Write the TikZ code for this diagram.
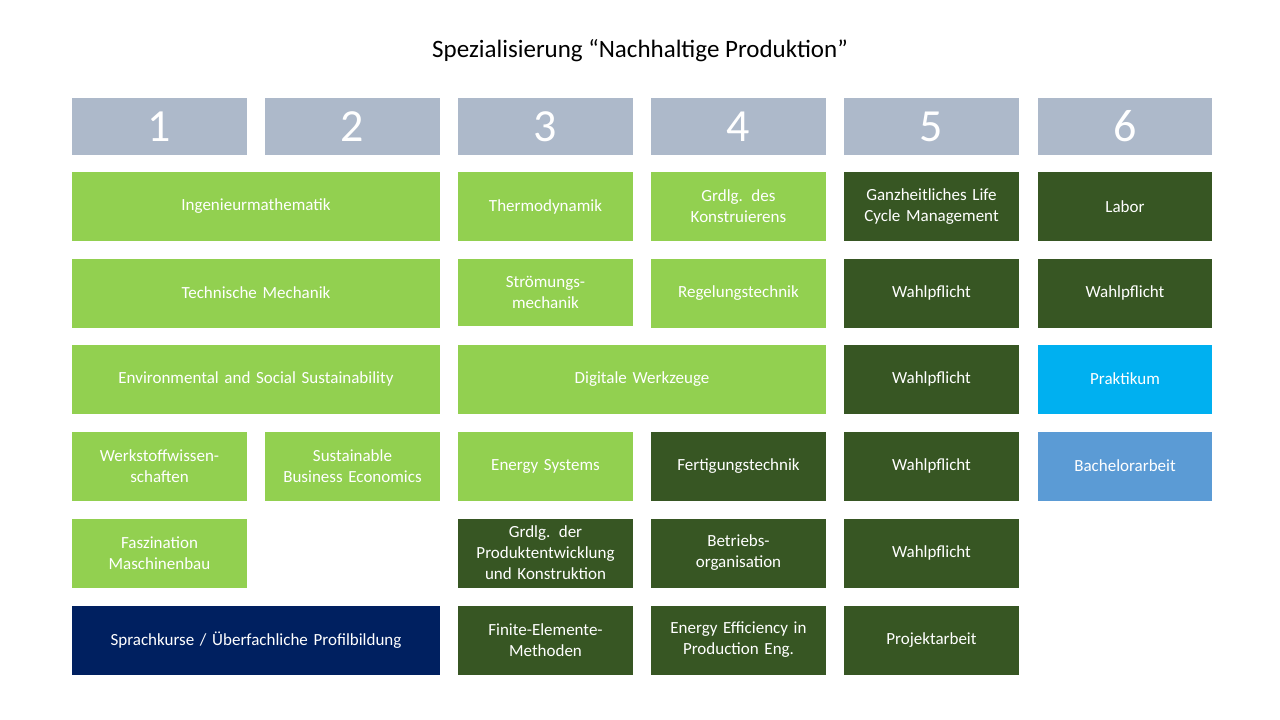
\documentclass[tikz,border=0pt]{standalone}
\usepackage{fontspec}
\setmainfont{Carlito}
\definecolor{hdr}{HTML}{ADB9CA}
\definecolor{lg}{HTML}{92D050}
\definecolor{dg}{HTML}{375623}
\definecolor{nv}{HTML}{002060}
\definecolor{cy}{HTML}{00B0F0}
\definecolor{bl}{HTML}{5B9BD5}
\begin{document}
\begin{tikzpicture}[x=1pt,y=-1pt,
  box/.style={inner sep=0pt,minimum height=69pt,text=white,align=center,font=\fontsize{17}{21}\selectfont},
  one/.style={box,minimum width=175pt,text width=170pt},
  two/.style={box,minimum width=368pt,text width=360pt},
  head/.style={fill=hdr,inner sep=0pt,minimum width=175pt,minimum height=57pt,text=white,font=\fontsize{46}{50}\selectfont}]
\useasboundingbox (0,0) rectangle (1280,720);
\node[font=\fontsize{25}{30}\selectfont] (title) at (640,51) {Spezialisierung “Nachhaltige Produktion”};
\node[head] (h1) at (159.5,126.5) {1};
\node[head] (h2) at (352.5,126.5) {2};
\node[head] (h3) at (545.5,126.5) {3};
\node[head] (h4) at (738.5,126.5) {4};
\node[head] (h5) at (931.5,126.5) {5};
\node[head,minimum width=174pt] (h6) at (1125,126.5) {6};
% row 1
\node[two,fill=lg] (a1) at (256,206.5) {Ingenieurmathematik};
\node[one,fill=lg] (a3) at (545.5,206.5) {Thermodynamik};
\node[one,fill=lg] (a4) at (738.5,206.5) {Grdlg. des\\Konstruierens};
\node[one,fill=dg] (a5) at (931.5,206.5) {Ganzheitliches Life\\Cycle Management};
\node[one,fill=dg,minimum width=174pt] (a6) at (1125,206.5) {Labor};
% row 2
\node[two,fill=lg] (b1) at (256,293) {Technische Mechanik};
\node[one,fill=lg,minimum height=67pt] (b3) at (545.5,292) {Strömungs-\\mechanik};
\node[one,fill=lg] (b4) at (738.5,293) {Regelungstechnik};
\node[one,fill=dg] (b5) at (931.5,293) {Wahlpflicht};
\node[one,fill=dg,minimum width=174pt] (b6) at (1125,293) {Wahlpflicht};
% row 3
\node[two,fill=lg] (c1) at (256,379) {Environmental and Social Sustainability};
\node[two,fill=lg] (c3) at (642,379) {Digitale Werkzeuge};
\node[one,fill=dg] (c5) at (931.5,379) {Wahlpflicht};
\node[one,fill=cy,minimum width=174pt] (c6) at (1125,379) {Praktikum};
% row 4
\node[one,fill=lg] (d1) at (159.5,466) {Werkstoffwissen-\\schaften};
\node[one,fill=lg] (d2) at (352.5,466) {Sustainable\\Business Economics};
\node[one,fill=lg] (d3) at (545.5,466) {Energy Systems};
\node[one,fill=dg] (d4) at (738.5,466) {Fertigungstechnik};
\node[one,fill=dg] (d5) at (931.5,466) {Wahlpflicht};
\node[one,fill=bl,minimum width=174pt] (d6) at (1125,466) {Bachelorarbeit};
% row 5
\node[one,fill=lg] (e1) at (159.5,553) {Faszination\\Maschinenbau};
\node[one,fill=dg] (e3) at (545.5,553) {Grdlg. der\\Produktentwicklung\\und Konstruktion};
\node[one,fill=dg] (e4) at (738.5,553) {Betriebs-\\organisation};
\node[one,fill=dg] (e5) at (931.5,553) {Wahlpflicht};
% row 6
\node[two,fill=nv] (f1) at (256,640) {Sprachkurse / Überfachliche Profilbildung};
\node[one,fill=dg] (f3) at (545.5,640) {Finite-Elemente-\\Methoden};
\node[one,fill=dg] (f4) at (738.5,640) {Energy Efficiency in\\Production Eng.};
\node[one,fill=dg] (f5) at (931.5,640) {Projektarbeit\\[18pt]};
\end{tikzpicture}
\end{document}
